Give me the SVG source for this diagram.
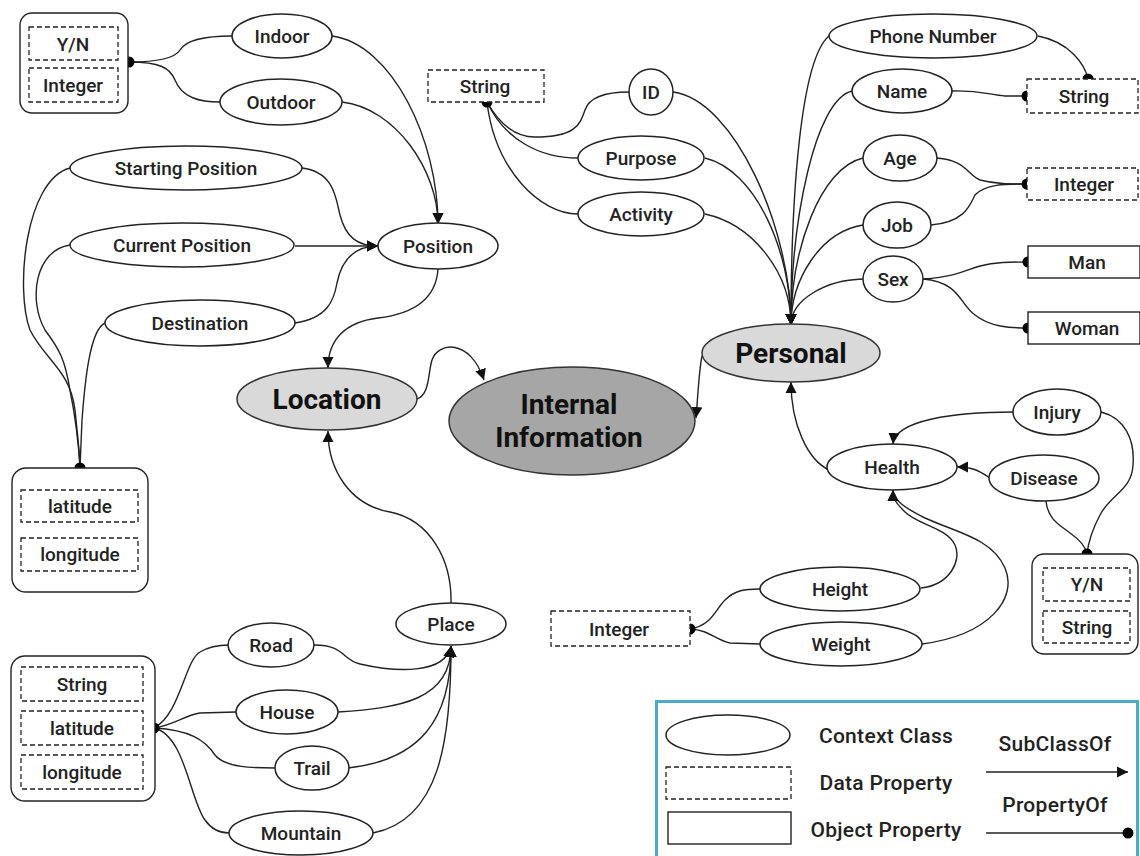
<svg xmlns="http://www.w3.org/2000/svg" width="1140" height="856" viewBox="0 0 1140 856">
  <defs>
    <marker id="arrow" markerUnits="userSpaceOnUse" markerWidth="12" markerHeight="12" refX="11" refY="6" orient="auto">
      <path d="M0,0.5 L11,6 L0,11.5 z" fill="#111"/>
    </marker>
    <style>
      .cls { fill: #fff; stroke: #222; stroke-width: 1.5; }
      .top { fill: #d9d9d9; stroke: #333; stroke-width: 1.5; }
      .root { fill: #a6a6a6; stroke: #333; stroke-width: 1.5; }
      .data { fill: #fff; stroke: #222; stroke-width: 1.3; stroke-dasharray: 5 3; }
      .obj { fill: #fff; stroke: #222; stroke-width: 1.4; }
      .grp { fill: #fff; stroke: #222; stroke-width: 1.4; }
      .sub { fill: none; stroke: #222; stroke-width: 1.4; marker-end: url(#arrow); }
      .prop { fill: none; stroke: #222; stroke-width: 1.4; }
      .dot { fill: #000; }
      text { font-family: Roboto, "Liberation Sans", sans-serif; font-weight: 500; font-size: 19px; fill: #222; text-anchor: middle; }
      .big { font-size: 28px; font-weight: 700; fill: #111; }
      .leg { font-size: 21px; letter-spacing: 0.3px; }
    </style>
  </defs>

  <!-- connectors -->
  <g id="connectors">
    <!-- Position subclasses -->
    <path class="sub" d="M332,36 C392,44 438,140 438,224"/>
    <path class="sub" d="M342,102 C395,108 438,170 438,224"/>
    <path class="sub" d="M302,168 C335,172 336,200 340,215 C346,238 358,246 378,246"/>
    <path class="sub" d="M295,246 L378,246"/>
    <path class="sub" d="M295,323 C328,318 334,300 337,283 C342,258 356,246 378,246"/>
    <!-- Location / Personal to root -->
    <path class="sub" d="M438,269 C436,300 412,314 378,318 C345,322 328,340 328,368"/>
    <path class="sub" d="M451,603 C452,560 430,520 390,512 C350,505 328,470 328,431"/>
    <path class="sub" d="M417,399 C430,395 428,372 432,360 C438,342 470,338 484,380"/>
    <path class="sub" d="M702,356 C699,370 698,395 696,418"/>
    <!-- Place subclasses -->
    <path class="sub" d="M314,645 C345,645 342,660 360,664 C395,672 445,675 451,646"/>
    <path class="sub" d="M338,712 C400,708 451,700 451,646"/>
    <path class="sub" d="M348,768 C420,760 451,720 451,646"/>
    <path class="sub" d="M373,833 C440,820 451,740 451,646"/>
    <!-- Personal subclasses -->
    <path class="sub" d="M673,92 C735,100 791,230 791,325"/>
    <path class="sub" d="M705,158 C755,170 791,250 791,325"/>
    <path class="sub" d="M705,214 C755,225 791,275 791,325"/>
    <path class="sub" d="M829,36 C800,60 791,200 791,325"/>
    <path class="sub" d="M852,91 C815,100 791,220 791,325"/>
    <path class="sub" d="M863,158 C820,168 791,250 791,325"/>
    <path class="sub" d="M863,225 C820,232 791,280 791,325"/>
    <path class="sub" d="M863,279 C825,280 791,300 791,325"/>
    <!-- Health -->
    <path class="sub" d="M829,470 C808,460 791,425 791,382"/>
    <path class="sub" d="M1013,412 C955,412 895,420 893,444"/>
    <path class="sub" d="M990,478 C978,470 972,467 957,467"/>
    <path class="sub" d="M921,588 C950,585 962,560 955,545 C946,527 918,525 905,512 C897,504 893,500 893,490"/>
    <path class="sub" d="M922,644 C990,635 1018,598 1005,568 C992,538 955,532 925,518 C905,508 893,500 893,490"/>

    <!-- property links -->
    <path class="prop" d="M129,62 C160,62 175,58 180,50 C186,40 205,36 232,36"/>
    <path class="prop" d="M129,62 C160,62 170,68 175,80 C182,98 200,102 220,102"/>
    <path class="prop" d="M70,168 C25,180 15,290 30,330 C45,360 70,370 75,410 C78,440 80,455 80,468"/>
    <path class="prop" d="M70,245 C35,250 28,300 45,330 C60,350 65,360 70,390 C76,420 79,450 80,468"/>
    <path class="prop" d="M105,323 C90,330 85,380 82,420 L80,468"/>
    <path class="prop" d="M154,728 C180,715 185,660 200,652 C210,646 220,645 229,645"/>
    <path class="prop" d="M154,728 C175,725 185,715 200,713 L236,712"/>
    <path class="prop" d="M154,728 C190,730 205,740 215,755 C225,768 255,768 275,768"/>
    <path class="prop" d="M154,728 C185,735 190,800 205,820 C212,830 220,833 229,833"/>
    <path class="prop" d="M487,102 C500,125 515,137 535,137 C575,137 580,125 585,110 C590,95 610,92 629,92"/>
    <path class="prop" d="M487,102 C505,140 540,158 578,158"/>
    <path class="prop" d="M487,102 C495,170 540,214 578,214"/>
    <path class="prop" d="M1038,36 C1070,42 1085,65 1088,79"/>
    <path class="prop" d="M952,91 C980,90 990,95 1005,96 L1027,96"/>
    <path class="prop" d="M937,158 C965,160 968,175 980,180 C995,184 1010,184 1027,184"/>
    <path class="prop" d="M931,225 C965,222 970,205 975,195 C985,184 1005,184 1027,184"/>
    <path class="prop" d="M923,279 C960,276 965,270 980,266 C995,262 1010,262 1028,262"/>
    <path class="prop" d="M923,279 C960,282 960,305 975,315 C990,327 1010,328 1028,328"/>
    <path class="prop" d="M690,629 C712,625 715,610 725,600 C735,590 745,589 760,589"/>
    <path class="prop" d="M690,629 C710,630 715,640 730,643 L760,644"/>
    <path class="prop" d="M1101,412 C1125,418 1135,440 1133,465 C1132,490 1110,495 1100,515 C1092,530 1088,545 1087,554"/>
    <path class="prop" d="M1046,501 C1048,520 1060,525 1070,533 C1080,540 1086,548 1087,554"/>

    <!-- property endpoints -->
    <circle class="dot" cx="129" cy="62" r="5.5"/>
    <circle class="dot" cx="80" cy="468" r="5.5"/>
    <circle class="dot" cx="154" cy="728" r="5.5"/>
    <circle class="dot" cx="487" cy="102" r="5.5"/>
    <circle class="dot" cx="1088" cy="79" r="5.5"/>
    <circle class="dot" cx="1027" cy="96" r="5.5"/>
    <circle class="dot" cx="1027" cy="184" r="5.5"/>
    <circle class="dot" cx="1028" cy="262" r="5.5"/>
    <circle class="dot" cx="1028" cy="328" r="5.5"/>
    <circle class="dot" cx="690" cy="629" r="5.5"/>
    <circle class="dot" cx="1087" cy="554" r="5.5"/>
  </g>

  <!-- data property groups -->
  <g id="yn-integer">
    <rect class="grp" x="20" y="13" width="108" height="100" rx="12"/>
    <rect class="data" x="29" y="27" width="89" height="33"/>
    <text x="73" y="51">Y/N</text>
    <rect class="data" x="29" y="68" width="89" height="34"/>
    <text x="73" y="92">Integer</text>
  </g>
  <g id="lat-long">
    <rect class="grp" x="12" y="468" width="136" height="124" rx="14"/>
    <rect class="data" x="21" y="490" width="117" height="32"/>
    <text x="80" y="513">latitude</text>
    <rect class="data" x="21" y="538" width="117" height="33"/>
    <text x="80" y="561">longitude</text>
  </g>
  <g id="place-props">
    <rect class="grp" x="11" y="656" width="144" height="145" rx="14"/>
    <rect class="data" x="21" y="667" width="122" height="34"/>
    <text x="82" y="691">String</text>
    <rect class="data" x="21" y="711" width="122" height="34"/>
    <text x="82" y="735">latitude</text>
    <rect class="data" x="21" y="755" width="122" height="34"/>
    <text x="82" y="779">longitude</text>
  </g>
  <g id="string-top">
    <rect class="data" x="428" y="70" width="116" height="32"/>
    <text x="485" y="93">String</text>
  </g>
  <g id="string-right">
    <rect class="data" x="1027" y="79" width="111" height="34"/>
    <text x="1084" y="103">String</text>
  </g>
  <g id="integer-right">
    <rect class="data" x="1027" y="168" width="111" height="32"/>
    <text x="1084" y="191">Integer</text>
  </g>
  <g id="integer-bottom">
    <rect class="data" x="551" y="611" width="139" height="35"/>
    <text x="619" y="636">Integer</text>
  </g>
  <g id="yn-string">
    <rect class="grp" x="1032" y="554" width="106" height="100" rx="12"/>
    <rect class="data" x="1043" y="568" width="87" height="33"/>
    <text x="1087" y="591">Y/N</text>
    <rect class="data" x="1043" y="611" width="87" height="32"/>
    <text x="1087" y="634">String</text>
  </g>

  <!-- object properties -->
  <g id="man">
    <rect class="obj" x="1028" y="246" width="112" height="32"/>
    <text x="1087" y="269">Man</text>
  </g>
  <g id="woman">
    <rect class="obj" x="1028" y="312" width="112" height="32"/>
    <text x="1087" y="335">Woman</text>
  </g>

  <!-- context classes -->
  <g id="indoor"><ellipse class="cls" cx="282" cy="36" rx="50" ry="22"/><text x="282" y="43">Indoor</text></g>
  <g id="outdoor"><ellipse class="cls" cx="281" cy="102" rx="61" ry="23"/><text x="281" y="109">Outdoor</text></g>
  <g id="starting-position"><ellipse class="cls" cx="186" cy="168" rx="116" ry="22"/><text x="186" y="175">Starting Position</text></g>
  <g id="current-position"><ellipse class="cls" cx="182" cy="245" rx="112" ry="22"/><text x="182" y="252">Current Position</text></g>
  <g id="destination"><ellipse class="cls" cx="200" cy="323" rx="95" ry="23"/><text x="200" y="330">Destination</text></g>
  <g id="position"><ellipse class="cls" cx="438" cy="246" rx="60" ry="23"/><text x="438" y="253">Position</text></g>
  <g id="location"><ellipse class="top" cx="327" cy="399" rx="90" ry="31"/><text class="big" x="327" y="409">Location</text></g>
  <g id="internal-information">
    <ellipse class="root" cx="572" cy="421" rx="123" ry="54"/>
    <text class="big" x="569" y="414">Internal</text>
    <text class="big" x="569" y="447">Information</text>
  </g>
  <g id="personal"><ellipse class="top" cx="791" cy="353" rx="89" ry="29"/><text class="big" x="791" y="363">Personal</text></g>
  <g id="place"><ellipse class="cls" cx="451" cy="624" rx="55" ry="21"/><text x="451" y="631">Place</text></g>
  <g id="road"><ellipse class="cls" cx="271" cy="645" rx="43" ry="22"/><text x="271" y="652">Road</text></g>
  <g id="house"><ellipse class="cls" cx="287" cy="712" rx="51" ry="22"/><text x="287" y="719">House</text></g>
  <g id="trail"><ellipse class="cls" cx="312" cy="768" rx="37" ry="22"/><text x="312" y="775">Trail</text></g>
  <g id="mountain"><ellipse class="cls" cx="301" cy="833" rx="72" ry="22"/><text x="301" y="840">Mountain</text></g>
  <g id="id"><ellipse class="cls" cx="651" cy="92" rx="22" ry="23"/><text x="651" y="99">ID</text></g>
  <g id="purpose"><ellipse class="cls" cx="641" cy="158" rx="63" ry="22"/><text x="641" y="165">Purpose</text></g>
  <g id="activity"><ellipse class="cls" cx="641" cy="214" rx="63" ry="22"/><text x="641" y="221">Activity</text></g>
  <g id="phone-number"><ellipse class="cls" cx="933" cy="36" rx="104" ry="22"/><text x="933" y="43">Phone Number</text></g>
  <g id="name"><ellipse class="cls" cx="902" cy="91" rx="50" ry="22"/><text x="902" y="98">Name</text></g>
  <g id="age"><ellipse class="cls" cx="900" cy="158" rx="37" ry="23"/><text x="900" y="165">Age</text></g>
  <g id="job"><ellipse class="cls" cx="897" cy="225" rx="34" ry="23"/><text x="897" y="232">Job</text></g>
  <g id="sex"><ellipse class="cls" cx="893" cy="279" rx="30" ry="23"/><text x="893" y="286">Sex</text></g>
  <g id="health"><ellipse class="cls" cx="892" cy="467" rx="65" ry="23"/><text x="892" y="474">Health</text></g>
  <g id="injury"><ellipse class="cls" cx="1057" cy="412" rx="44" ry="23"/><text x="1057" y="419">Injury</text></g>
  <g id="disease"><ellipse class="cls" cx="1044" cy="478" rx="55" ry="23"/><text x="1044" y="485">Disease</text></g>
  <g id="height"><ellipse class="cls" cx="840" cy="589" rx="80" ry="22"/><text x="840" y="596">Height</text></g>
  <g id="weight"><ellipse class="cls" cx="841" cy="644" rx="81" ry="22"/><text x="841" y="651">Weight</text></g>

  <!-- legend -->
  <g id="legend">
    <rect x="656.5" y="701.5" width="481" height="156" fill="#fff" stroke="#4bacc6" stroke-width="3"/>
    <ellipse class="cls" cx="728" cy="735" rx="62" ry="20"/>
    <rect class="data" x="666" y="767" width="125" height="32"/>
    <rect class="obj" x="668" y="812" width="123" height="32"/>
    <text class="leg" x="886" y="743">Context Class</text>
    <text class="leg" x="886" y="790">Data Property</text>
    <text class="leg" x="886" y="837">Object Property</text>
    <text class="leg" x="1055" y="751">SubClassOf</text>
    <path class="sub" d="M986,772 L1128,772"/>
    <text class="leg" x="1055" y="812">PropertyOf</text>
    <path class="prop" d="M986,833 L1128,833"/>
    <circle class="dot" cx="1128" cy="833" r="5.5"/>
  </g>
</svg>
